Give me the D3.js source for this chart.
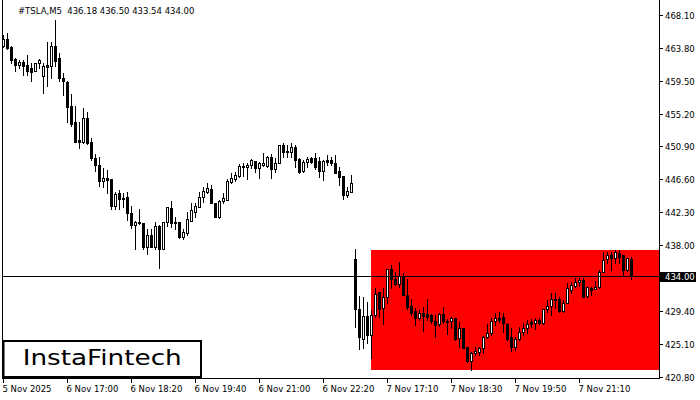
<!DOCTYPE html>
<html><head><meta charset="utf-8">
<script src="https://cdn.jsdelivr.net/npm/d3@7"></script>
<style>
html,body{margin:0;padding:0;background:#fff;}
svg{display:block;}
text{font-family:"DejaVu Sans",sans-serif;}
</style></head><body>
<svg id="c" width="700" height="400"></svg>
<script>
const opens=[463.99,464.91,463.86,462.29,461.50,461.89,461.50,461.11,460.71,461.76,460.06,461.50,461.37,463.99,462.42,459.92,459.40,456.25,454.15,451.79,
451.53,454.68,451.53,449.43,448.51,446.41,446.80,446.67,443.13,444.83,444.18,444.31,442.21,440.63,441.03,440.90,437.75,439.32,437.75,440.50,
437.48,441.03,442.86,441.03,441.03,439.06,439.58,441.16,442.34,443.00,444.31,444.96,445.36,443.52,441.68,443.78,443.91,446.28,446.67,447.06,
448.18,448.24,448.51,449.03,448.11,448.51,448.38,449.56,447.98,448.77,451.13,450.34,450.21,450.87,449.29,447.72,448.90,449.43,449.43,449.03,
447.72,449.16,449.16,448.77,447.72,447.06,444.57,444.96,436.17,429.61,425.67,428.69,426.20,428.82,431.84,429.74,431.19,434.86,433.55,432.89,
433.94,431.45,430.00,429.35,428.43,429.09,428.95,428.82,428.04,427.64,428.95,428.10,428.04,428.43,425.80,427.12,424.62,422.79,423.84,423.97,
424.49,425.94,426.46,428.04,428.43,428.56,427.64,425.94,424.62,425.67,426.59,427.12,427.90,427.77,428.17,427.77,429.61,430.00,430.79,430.92,
429.35,430.40,432.10,432.63,433.15,433.42,431.32,432.37,432.23,432.50,434.47,436.17,436.70,436.30,436.96,436.70,434.73,436.18];
const highs=[465.44,465.70,463.99,462.42,462.16,462.16,462.81,461.76,461.76,462.29,461.76,464.52,464.52,467.40,463.07,460.45,459.53,457.82,456.25,454.15,
455.99,455.46,452.05,449.95,449.56,448.11,447.85,446.67,444.96,445.23,444.83,444.96,443.13,441.16,442.73,440.90,440.11,440.11,441.03,440.63,
441.03,443.00,443.78,441.68,441.03,440.11,442.34,443.52,443.52,444.96,445.62,446.15,445.88,443.52,443.91,444.83,446.67,447.46,447.59,448.64,
448.77,448.77,449.29,449.03,448.90,450.08,449.69,449.95,449.43,451.13,451.39,451.13,451.39,451.13,449.43,449.16,449.56,449.56,450.08,449.56,
449.16,449.82,449.56,449.82,448.24,447.06,445.62,447.20,437.48,431.32,431.19,430.53,429.48,432.37,431.84,432.37,434.86,435.38,434.47,435.78,
434.34,433.55,430.92,429.74,429.48,429.87,430.92,428.95,428.82,429.09,429.87,428.30,428.56,428.43,427.90,427.12,424.62,423.97,424.62,424.62,
426.07,427.64,428.43,429.09,429.22,429.09,427.77,427.12,425.94,427.25,427.77,428.17,428.30,428.43,428.43,429.61,430.79,431.71,431.71,431.19,
430.79,433.02,433.15,433.68,433.68,433.68,432.50,432.50,433.29,434.73,437.09,437.09,437.09,437.35,437.35,436.70,436.30,436.50];
const lows=[463.86,463.60,461.76,460.71,461.11,460.19,460.19,459.53,460.71,461.11,457.96,458.87,459.92,461.37,459.53,457.69,454.15,453.62,451.53,450.74,
451.39,451.26,449.16,447.72,445.75,445.62,444.83,442.73,442.73,442.73,443.00,441.29,440.24,437.48,440.76,437.48,436.83,437.75,437.48,434.99,
437.48,440.50,440.37,440.11,438.93,438.80,439.32,441.16,441.68,443.00,443.65,444.83,443.52,441.68,441.55,443.52,443.91,446.15,446.41,446.93,
447.06,446.67,448.11,447.59,446.80,448.38,448.24,446.80,447.59,448.77,449.56,449.56,449.56,448.24,447.46,447.59,448.24,448.77,447.98,446.93,
446.54,448.51,448.51,447.46,445.88,444.05,444.31,444.96,427.25,424.36,424.49,425.15,423.18,428.56,428.56,427.64,430.40,432.37,432.76,432.50,
431.45,429.61,428.82,427.51,428.17,426.72,428.17,427.77,425.94,427.38,427.77,426.33,427.12,425.54,424.62,424.49,422.65,421.61,423.57,423.57,
423.84,425.80,426.20,427.51,427.90,426.59,425.54,424.10,424.23,425.54,426.20,426.46,427.25,426.99,427.64,427.64,429.22,428.82,429.74,429.22,
429.22,430.40,431.71,432.50,432.63,431.19,431.19,431.45,432.23,432.37,434.47,435.65,434.73,435.65,435.65,434.07,434.60,433.54];
const closes=[464.91,463.73,462.16,461.50,461.89,461.37,460.84,460.58,461.76,462.16,461.37,461.30,463.99,462.02,459.92,459.53,456.12,453.89,451.53,451.53,
454.68,451.39,449.43,448.51,446.41,446.80,446.54,443.13,444.70,444.05,443.98,442.21,440.63,441.03,440.83,437.75,439.32,437.75,440.50,437.48,
441.03,443.00,440.90,440.83,439.06,439.72,441.42,442.60,443.13,444.31,445.10,445.49,443.52,441.68,443.78,444.18,446.41,446.80,447.20,448.38,
448.38,448.51,449.16,448.11,448.77,448.77,449.56,447.98,448.77,451.13,450.21,450.15,450.87,449.16,447.59,448.90,449.29,448.90,448.24,447.72,
449.03,448.90,448.77,447.46,446.93,444.57,445.10,446.15,429.61,425.94,428.69,426.20,428.82,431.58,429.61,431.19,434.86,433.55,432.89,433.94,
431.45,429.87,429.09,428.43,429.09,428.69,428.56,428.04,427.51,428.95,428.04,427.90,428.43,425.67,427.12,424.49,422.79,423.84,424.10,424.49,
425.94,426.46,428.04,428.43,428.23,427.77,425.67,424.62,425.67,426.59,427.12,427.64,427.71,428.17,427.77,429.61,430.00,430.92,430.92,429.35,
430.40,432.37,432.76,433.15,433.42,431.19,432.50,432.17,432.50,434.47,436.04,436.70,436.30,437.09,436.43,434.73,436.30,434.00];

const timeTickIndex=[0,16,32,48,64,80,96,112,128,144];
const timeTickLabels=["5 Nov 2025","6 Nov 17:00","6 Nov 18:20","6 Nov 19:40","6 Nov 21:00","6 Nov 22:20","7 Nov 17:10","7 Nov 18:30","7 Nov 19:50","7 Nov 21:10"];
const priceTicks=[468.10,463.80,459.50,455.20,450.90,446.60,442.30,438.00,429.40,425.10,420.80];
const symbolTitle="#TSLA,M5";
const lastPrice=434.00;
const zoneStartIndex=92;
const zoneTop=437.35;
const zoneBottom=421.67;
const brandName="InstaFintech";

const svg=d3.select("#c");
const plotL=2, plotR=659.5, plotB=378;
const x=d3.scaleLinear().domain([0,164]).range([3.5,659.5]);
const y=d3.scaleLinear().domain([468.10,420.80]).range([15,376.6]);
const py=v=>Math.round(y(v));

// zone
svg.append("rect")
  .attr("x",x(zoneStartIndex)-0.5).attr("y",py(zoneTop))
  .attr("width",plotR-x(zoneStartIndex)+0.5).attr("height",py(zoneBottom)-py(zoneTop))
  .attr("fill","#ff0000");

// candles
const data=opens.map((o,i)=>({i,o,h:highs[i],l:lows[i],c:closes[i]}));
const g=svg.append("g");
g.selectAll("line.wick").data(data).join("line")
  .attr("x1",d=>x(d.i)).attr("x2",d=>x(d.i))
  .attr("y1",d=>py(d.h)).attr("y2",d=>py(d.l)+1)
  .attr("stroke","#000").attr("stroke-width",1);
g.selectAll("rect.body").data(data).join("rect")
  .each(function(d){
    const top=py(Math.max(d.o,d.c)), bot=py(Math.min(d.o,d.c));
    const s=d3.select(this);
    if(d.c>d.o){
      s.attr("x",x(d.i)-1).attr("y",top+0.5).attr("width",2).attr("height",Math.max(1,bot-top))
       .attr("fill","#fff").attr("stroke","#000").attr("stroke-width",1);
    } else {
      s.attr("x",x(d.i)-1.5).attr("y",top).attr("width",3).attr("height",Math.max(1,bot-top+1))
       .attr("fill","#000");
    }
  });

// frame
svg.append("line").attr("x1",plotL+0.5).attr("x2",plotL+0.5).attr("y1",0).attr("y2",plotB).attr("stroke","#000");
svg.append("line").attr("x1",plotR).attr("x2",plotR).attr("y1",0).attr("y2",plotB+1).attr("stroke","#000");
svg.append("line").attr("x1",plotL).attr("x2",plotR).attr("y1",plotB+0.5).attr("y2",plotB+0.5).attr("stroke","#000");

// current price line
svg.append("line").attr("x1",plotL).attr("x2",plotR).attr("y1",py(lastPrice)+0.5).attr("y2",py(lastPrice)+0.5)
  .attr("stroke","#000").attr("stroke-width",1);

// price axis
const pa=svg.append("g");
priceTicks.forEach(v=>{
  pa.append("line").attr("x1",plotR).attr("x2",663).attr("y1",py(v)+0.5).attr("y2",py(v)+0.5).attr("stroke","#000");
  pa.append("text").attr("x",665).attr("y",py(v)+3.5).attr("font-size","8.5px").attr("fill","#000").text(v.toFixed(2));
});
pa.append("rect").attr("x",660).attr("y",py(lastPrice)-4).attr("width",36).attr("height",10).attr("fill","#000");
pa.append("text").attr("x",665).attr("y",py(lastPrice)+4).attr("font-size","8.5px").attr("fill","#fff").text(lastPrice.toFixed(2));

// time axis
const ta=svg.append("g");
timeTickIndex.forEach((ix,k)=>{
  ta.append("line").attr("x1",x(ix)).attr("x2",x(ix)).attr("y1",plotB).attr("y2",plotB+5).attr("stroke","#000");
  ta.append("text").attr("x",x(ix)-1).attr("y",391.5).attr("font-size","8.5px").attr("fill","#000").text(timeTickLabels[k]);
});

// header
const n=opens.length-1;
svg.append("text").attr("x",18).attr("y",14).attr("font-size","8.5px").attr("fill","#000")
  .style("white-space","pre")
  .text(symbolTitle+"  "+[opens[n],highs[n],lows[n],closes[n]].map(v=>v.toFixed(2)).join(" "));

// brand box
svg.append("rect").attr("x",3.5).attr("y",341).attr("width",197.5).attr("height",36)
  .attr("fill","#fff").attr("stroke","#000").attr("stroke-width",2);
svg.append("text").attr("x",22.7).attr("y",365).attr("font-size","22px")
  .attr("font-family","Inter, sans-serif").attr("font-weight",500).attr("fill","#000")
  .attr("textLength",159).attr("lengthAdjust","spacingAndGlyphs").text(brandName);
</script>
</body></html>
